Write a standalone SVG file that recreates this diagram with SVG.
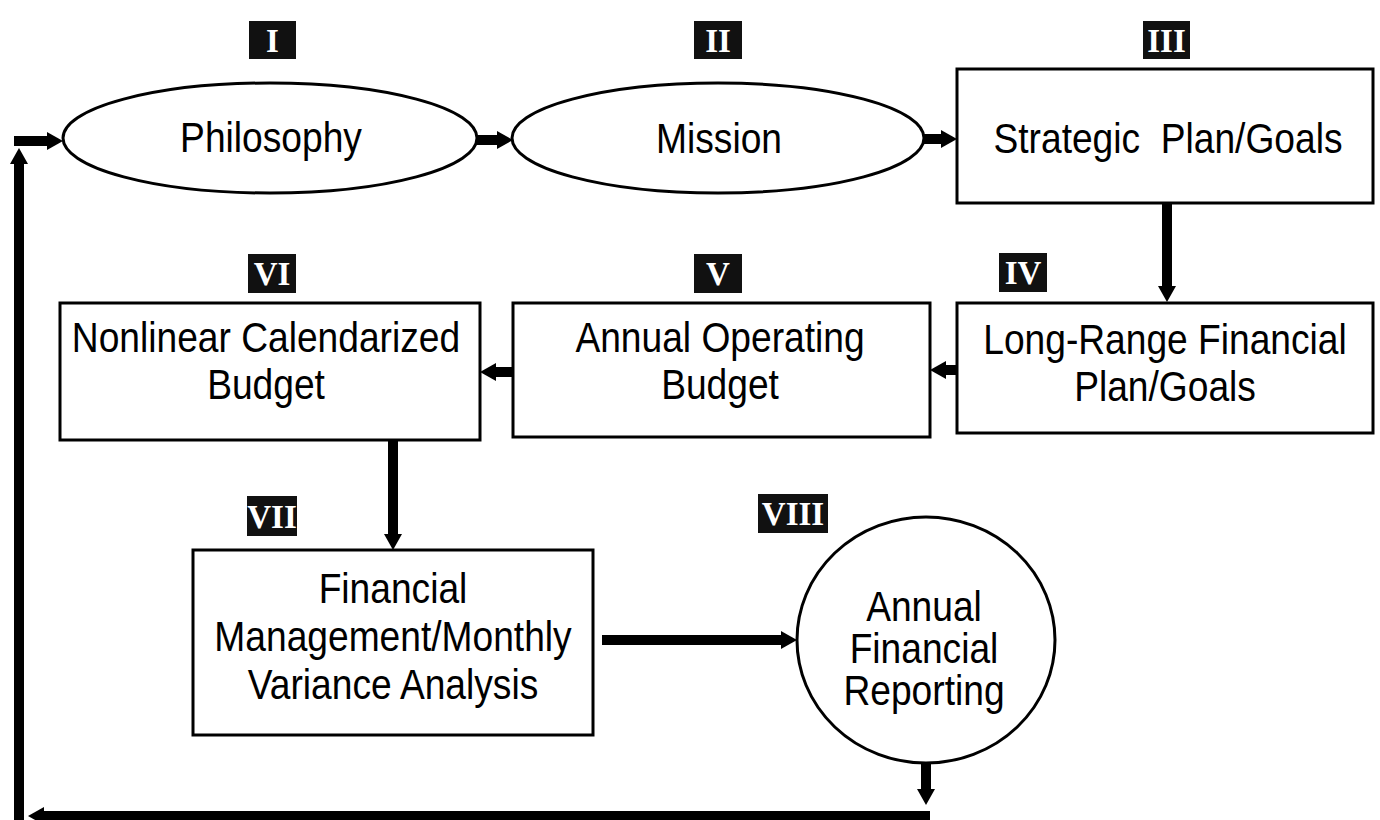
<svg xmlns="http://www.w3.org/2000/svg" width="1380" height="820" viewBox="0 0 1380 820">
<style>
.shape{fill:#fff;stroke:#000;stroke-width:3}
.lbl{font-family:"Liberation Sans",Arial,sans-serif;font-size:42px;fill:#000;text-anchor:middle}
.bdg rect{fill:#111}
.bdg text{font-family:"Liberation Serif","Times New Roman",serif;font-weight:bold;font-size:33px;fill:#fff;text-anchor:middle}
.conn{stroke:#000;stroke-width:10;fill:none}
</style>
<defs>
<marker id="ah" markerUnits="userSpaceOnUse" viewBox="0 0 16 18" refX="0" refY="9" markerWidth="16" markerHeight="18" orient="auto">
<path d="M0,0 L16,9 L0,18 z" fill="#000"/>
</marker>
</defs>
<rect width="1380" height="820" fill="#fff"/>

<g id="connectors">
<line class="conn" x1="477" y1="140" x2="497" y2="140" marker-end="url(#ah)"/>
<line class="conn" x1="924" y1="139" x2="941" y2="139" marker-end="url(#ah)"/>
<line class="conn" x1="1167" y1="203" x2="1167" y2="286" marker-end="url(#ah)"/>
<line class="conn" x1="957" y1="370" x2="946" y2="370" marker-end="url(#ah)"/>
<line class="conn" x1="513" y1="372" x2="496" y2="372" marker-end="url(#ah)"/>
<line class="conn" x1="393" y1="440" x2="393" y2="534" marker-end="url(#ah)"/>
<line class="conn" x1="602" y1="640" x2="781" y2="640" marker-end="url(#ah)"/>
<line class="conn" x1="926" y1="763" x2="926" y2="789" marker-end="url(#ah)"/>
<line class="conn" stroke-width="8" x1="930" y1="816" x2="44" y2="816" marker-end="url(#ah)"/>
<line class="conn" x1="19" y1="820" x2="19" y2="164" marker-end="url(#ah)"/>
<line class="conn" x1="14" y1="141" x2="47" y2="141" marker-end="url(#ah)"/>
</g>

<g id="node-philosophy">
<ellipse class="shape" cx="270" cy="138" rx="207" ry="55"/>
<text class="lbl" transform="translate(271,152) scale(0.885,1)">Philosophy</text>
<g class="bdg"><rect x="249" y="21" width="47" height="38"/><text x="272.5" y="52">I</text></g>
</g>

<g id="node-mission">
<ellipse class="shape" cx="718" cy="138" rx="206" ry="55"/>
<text class="lbl" transform="translate(719,153) scale(0.885,1)">Mission</text>
<g class="bdg"><rect x="694" y="21" width="48" height="38"/><text x="718" y="52">II</text></g>
</g>

<g id="node-strategic">
<rect class="shape" x="957" y="69" width="416" height="134"/>
<text class="lbl" style="white-space:pre" transform="translate(1168,153) scale(0.885,1)">Strategic  Plan/Goals</text>
<g class="bdg"><rect x="1143" y="21" width="47" height="38"/><text x="1166.5" y="52">III</text></g>
</g>

<g id="node-longrange">
<rect class="shape" x="957" y="303" width="416" height="130"/>
<text class="lbl" transform="translate(1165,354) scale(0.885,1)"><tspan x="0" y="0">Long-Range Financial</tspan><tspan x="0" y="47">Plan/Goals</tspan></text>
<g class="bdg"><rect x="999" y="253" width="48" height="39"/><text x="1023" y="284">IV</text></g>
</g>

<g id="node-annual-operating">
<rect class="shape" x="513" y="303" width="417" height="134"/>
<text class="lbl" transform="translate(720,352) scale(0.885,1)"><tspan x="0" y="0">Annual Operating</tspan><tspan x="0" y="47">Budget</tspan></text>
<g class="bdg"><rect x="694" y="254" width="48" height="39"/><text x="718" y="285">V</text></g>
</g>

<g id="node-nonlinear">
<rect class="shape" x="60" y="303" width="420" height="137"/>
<text class="lbl" transform="translate(266,352) scale(0.885,1)"><tspan x="0" y="0">Nonlinear Calendarized</tspan><tspan x="0" y="47">Budget</tspan></text>
<g class="bdg"><rect x="248" y="254" width="48" height="39"/><text x="272" y="285">VI</text></g>
</g>

<g id="node-financial-management">
<rect class="shape" x="193" y="550" width="400" height="185"/>
<text class="lbl" transform="translate(393,603) scale(0.885,1)"><tspan x="0" y="0">Financial</tspan><tspan x="0" y="48">Management/Monthly</tspan><tspan x="0" y="96">Variance Analysis</tspan></text>
<g class="bdg"><rect x="247" y="496" width="50" height="40"/><text x="272" y="528">VII</text></g>
</g>

<g id="node-annual-reporting">
<ellipse class="shape" cx="926" cy="640" rx="129" ry="123"/>
<text class="lbl" transform="translate(924,621) scale(0.885,1)"><tspan x="0" y="0">Annual</tspan><tspan x="0" y="42">Financial</tspan><tspan x="0" y="84">Reporting</tspan></text>
<g class="bdg"><rect x="758" y="494" width="70" height="39"/><text x="793" y="525">VIII</text></g>
</g>
</svg>
